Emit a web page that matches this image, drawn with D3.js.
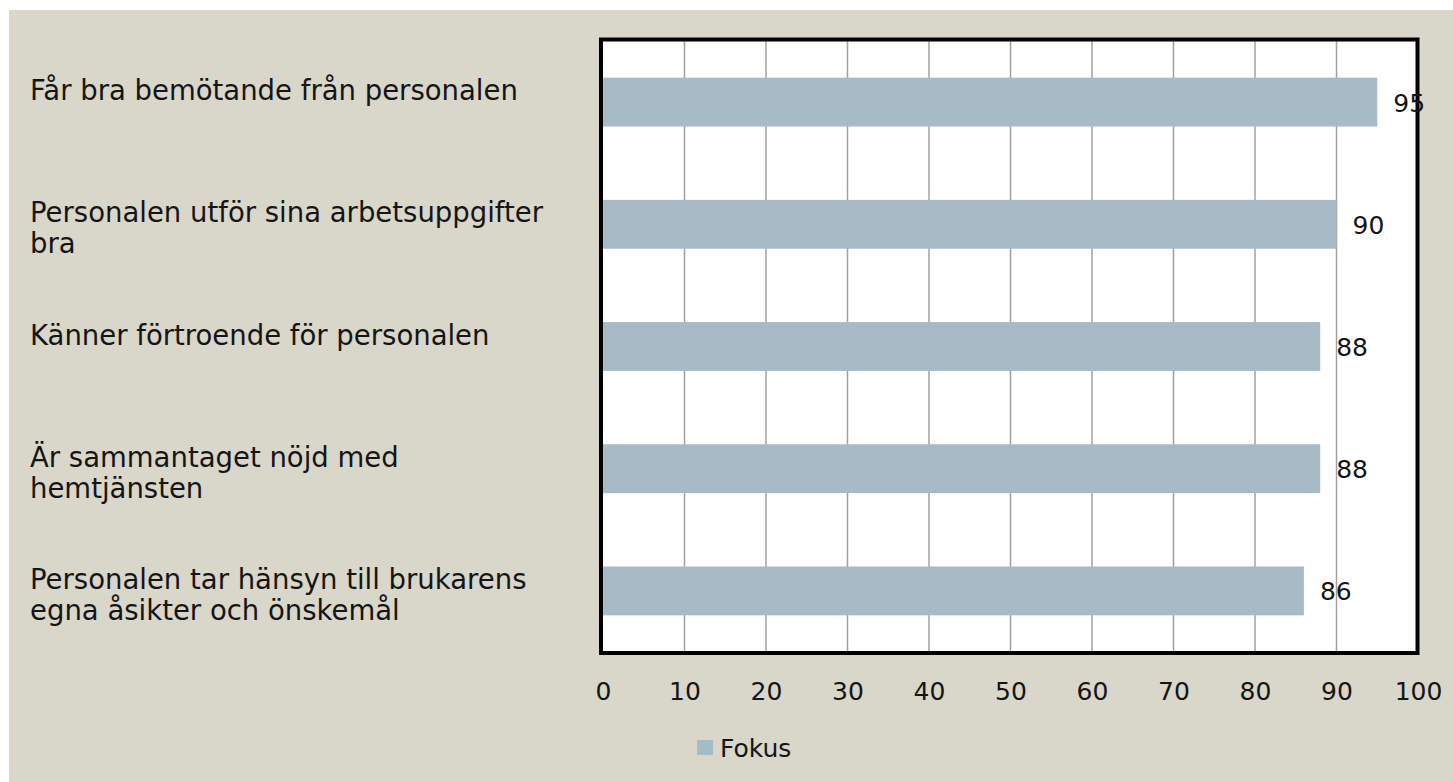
<!DOCTYPE html>
<html>
<head>
<meta charset="utf-8">
<script src="https://cdn.jsdelivr.net/npm/d3@7/dist/d3.min.js"></script>
<style>
  html, body { margin: 0; padding: 0; background: #ffffff; }
  svg { display: block; }
</style>
</head>
<body>
<svg id="chart" width="1453" height="782"></svg>
<script>
// ---- data ----
const categories = [
  "Får bra bemötande från personalen",
  "Personalen utför sina arbetsuppgifter\nbra",
  "Känner förtroende för personalen",
  "Är sammantaget nöjd med\nhemtjänsten",
  "Personalen tar hänsyn till brukarens\negna åsikter och önskemål"
];
const fokusValues = [95, 90, 88, 88, 86];
const xTicks = [0, 10, 20, 30, 40, 50, 60, 70, 80, 90, 100];
const seriesName = "Fokus";

// ---- style / layout ----
const W = 1453, H = 782;
const bgColor = "#d9d6ca";
const barColor = "#a7bbc6";
const gridColor = "#a0a0a0";
const textColor = "#151515";
const labelFont = "'DejaVu Sans', sans-serif";
const plot = { left: 603, right: 1418, top: 41, bottom: 652 };

const svg = d3.select("#chart");

svg.append("rect")
  .attr("x", 9).attr("y", 10)
  .attr("width", W - 9).attr("height", H - 10)
  .attr("fill", bgColor);

const x = d3.scaleLinear().domain([0, 100]).range([plot.left, plot.right]);
const y = d3.scaleBand().domain(categories)
  .range([plot.top, plot.bottom])
  .paddingInner(0.6).paddingOuter(0.3);

// plot background
svg.append("rect")
  .attr("x", plot.left - 2).attr("y", plot.top - 1.5)
  .attr("width", plot.right - plot.left + 1.5)
  .attr("height", plot.bottom - plot.top + 2.5)
  .attr("fill", "#ffffff");

// gridlines
svg.append("g")
  .selectAll("line")
  .data(xTicks.filter(t => t > 0 && t < 100))
  .join("line")
  .attr("x1", d => x(d)).attr("x2", d => x(d))
  .attr("y1", plot.top).attr("y2", plot.bottom)
  .attr("stroke", gridColor).attr("stroke-width", 1.5);

// bars
svg.append("g")
  .selectAll("rect")
  .data(fokusValues)
  .join("rect")
  .attr("x", x(0))
  .attr("y", (d, i) => y(categories[i]))
  .attr("width", d => x(d) - x(0))
  .attr("height", y.bandwidth())
  .attr("fill", barColor);

// border
svg.append("rect")
  .attr("x", plot.left - 2).attr("y", plot.top - 1.5)
  .attr("width", plot.right - plot.left + 1.5)
  .attr("height", plot.bottom - plot.top + 2.5)
  .attr("fill", "none")
  .attr("stroke", "#000").attr("stroke-width", 4);

// value labels
svg.append("g")
  .selectAll("text")
  .data(fokusValues)
  .join("text")
  .attr("x", d => x(d) + 16)
  .attr("y", (d, i) => y(categories[i]) + y.bandwidth() / 2 + 9.5)
  .attr("font-family", labelFont)
  .attr("font-size", 25)
  .attr("fill", textColor)
  .text(d => d);

// x axis
const xAxis = d3.axisBottom(x).tickValues(xTicks).tickSize(0).tickPadding(0);
const gx = svg.append("g")
  .attr("transform", `translate(0, ${plot.bottom})`)
  .call(xAxis);
gx.select(".domain").remove();
gx.selectAll("text")
  .attr("font-family", labelFont)
  .attr("font-size", 25)
  .attr("fill", textColor)
  .attr("dy", null)
  .attr("y", 48);

// category labels
const catG = svg.append("g");
categories.forEach((c, i) => {
  const cy = y(c) + y.bandwidth() / 2;
  const lines = c.split("\n");
  const t = catG.append("text")
    .attr("font-family", labelFont)
    .attr("font-size", 27.5)
    .attr("fill", textColor);
  lines.forEach((ln, j) => {
    t.append("tspan")
      .attr("x", 30)
      .attr("y", cy - 12 + 31 * j + 10)
      .text(ln);
  });
});

// legend
const lg = svg.append("g").attr("transform", "translate(697, 740)");
lg.append("rect").attr("width", 16).attr("height", 15).attr("fill", barColor);
lg.append("text")
  .attr("x", 23).attr("y", 17)
  .attr("font-family", labelFont)
  .attr("font-size", 25)
  .attr("fill", textColor)
  .text(seriesName);
</script>
</body>
</html>
